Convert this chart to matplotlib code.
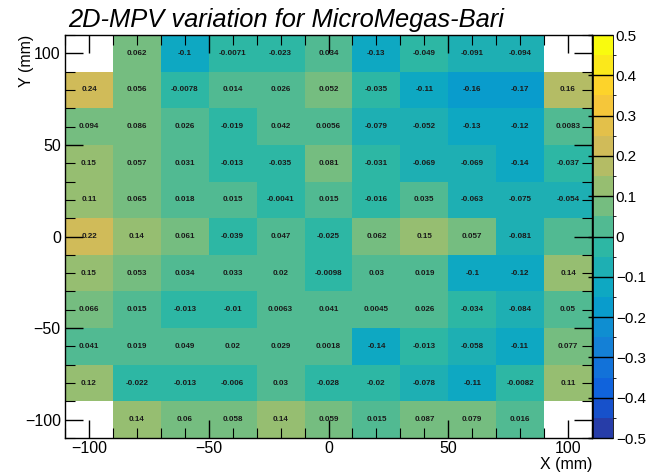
import numpy as np
import matplotlib
matplotlib.use("Agg")
import matplotlib.pyplot as plt
from matplotlib.colors import LinearSegmentedColormap, ListedColormap, BoundaryNorm

plt.rcParams['font.family'] = ['Liberation Sans', 'DejaVu Sans']

# bin edges (mm), 11 x 11 bins of 20 mm
x_edges = np.arange(-110, 111, 20)
y_edges = np.arange(-110, 111, 20)

# MPV variation per bin, rows listed from y=+100 down to y=-100
row_p100 = [np.nan, 0.062, -0.1, -0.0071, -0.023, 0.034, -0.13, -0.049, -0.091, -0.094, np.nan]
row_p80 = [0.24, 0.056, -0.0078, 0.014, 0.026, 0.052, -0.035, -0.11, -0.16, -0.17, 0.16]
row_p60 = [0.094, 0.086, 0.026, -0.019, 0.042, 0.0056, -0.079, -0.052, -0.13, -0.12, 0.0083]
row_p40 = [0.15, 0.057, 0.031, -0.013, -0.035, 0.081, -0.031, -0.069, -0.069, -0.14, -0.037]
row_p20 = [0.11, 0.065, 0.018, 0.015, -0.0041, 0.015, -0.016, 0.035, -0.063, -0.075, -0.054]
row_0 = [0.22, 0.14, 0.061, -0.039, 0.047, -0.025, 0.062, 0.15, 0.057, -0.081, 0.0]
row_m20 = [0.15, 0.053, 0.034, 0.033, 0.02, -0.0098, 0.03, 0.019, -0.1, -0.12, 0.14]
row_m40 = [0.066, 0.015, -0.013, -0.01, 0.0063, 0.041, 0.0045, 0.026, -0.034, -0.084, 0.05]
row_m60 = [0.041, 0.019, 0.049, 0.02, 0.029, 0.0018, -0.14, -0.013, -0.058, -0.11, 0.077]
row_m80 = [0.12, -0.022, -0.013, -0.006, 0.03, -0.028, -0.02, -0.078, -0.11, -0.0082, 0.11]
row_m100 = [np.nan, 0.14, 0.06, 0.058, 0.14, 0.059, 0.015, 0.087, 0.079, 0.016, np.nan]

z = np.array([row_m100, row_m80, row_m60, row_m40, row_m20, row_0,
              row_p20, row_p40, row_p60, row_p80, row_p100])

zmin, zmax, ncont = -0.5, 0.5, 20
cb_ticks = [-0.5, -0.4, -0.3, -0.2, -0.1, 0.0, 0.1, 0.2, 0.3, 0.4, 0.5]

# ROOT kBird palette, 20 contour levels
stops = np.linspace(0, 1, 9)
red = [0.2082, 0.0592, 0.0780, 0.0232, 0.1802, 0.5301, 0.8186, 0.9956, 0.9764]
green = [0.1664, 0.3599, 0.5041, 0.6419, 0.7178, 0.7492, 0.7328, 0.7862, 0.9832]
blue = [0.5293, 0.8684, 0.8385, 0.7914, 0.6425, 0.4662, 0.3499, 0.1968, 0.0539]
bird = LinearSegmentedColormap.from_list(
    "bird", list(zip(stops, zip(red, green, blue))), N=256)
cmap = ListedColormap([bird((i + 0.99) / ncont) for i in range(ncont)])
cmap.set_bad("white")
norm = BoundaryNorm(np.linspace(zmin, zmax, ncont + 1), cmap.N)

W, H = 648, 473
fig = plt.figure(figsize=(W / 100, H / 100), dpi=100)
ax = fig.add_axes([65 / W, 1 - 438 / H, 527 / W, 403 / H])
cax = fig.add_axes([593 / W, 1 - 438 / H, 20 / W, 403 / H])

mesh = ax.pcolormesh(x_edges, y_edges, np.ma.masked_invalid(z), cmap=cmap, norm=norm)

xc = 0.5 * (x_edges[:-1] + x_edges[1:])
yc = 0.5 * (y_edges[:-1] + y_edges[1:])
for j, yv in enumerate(yc):
    for i, xv in enumerate(xc):
        v = z[j, i]
        if np.isnan(v) or v == 0:
            continue
        ax.text(xv, yv, f"{v:.2g}", ha="center", va="center",
                fontsize=5.8, fontweight="bold", color="#1a1a1a")

ax.set_xlim(-110, 110)
ax.set_ylim(-110, 110)
ax.set_xticks([-100, -50, 0, 50, 100])
ax.set_yticks([-100, -50, 0, 50, 100])
ax.set_xticks(np.arange(-110, 111, 10), minor=True)
ax.set_yticks(np.arange(-110, 111, 10), minor=True)
ax.tick_params(which="both", direction="in", top=True, right=True, labelsize=11.5)
ax.tick_params(which="major", length=13, width=1)
ax.tick_params(which="minor", length=7, width=0.8)
ax.tick_params(axis="x", which="major", pad=2.5)
ax.tick_params(axis="y", which="major", pad=3)
for s in ax.spines.values():
    s.set_linewidth(1)

fig.text(592 / W, 1 - 469 / H, "X (mm)", ha="right", va="baseline", fontsize=11.5)
fig.text(27 / W, 1 - 35 / H, "Y (mm)", ha="center", va="top", rotation=90, fontsize=11.5)

cb = fig.colorbar(mesh, cax=cax, ticks=cb_ticks)
cb.ax.set_yticklabels(["0" if t == 0 else f"{t:.1f}".replace("-", "\u2212") for t in cb_ticks])
cb.ax.tick_params(direction="in", length=18, width=1, labelsize=11, pad=2)
cb.outline.set_linewidth(0.6)

fig.text(68 / W, 1 - 27 / H, "2D-MPV variation for MicroMegas-Bari",
         ha="left", va="baseline", fontsize=18.4, style="italic")

fig.savefig("out.png", dpi=100)
